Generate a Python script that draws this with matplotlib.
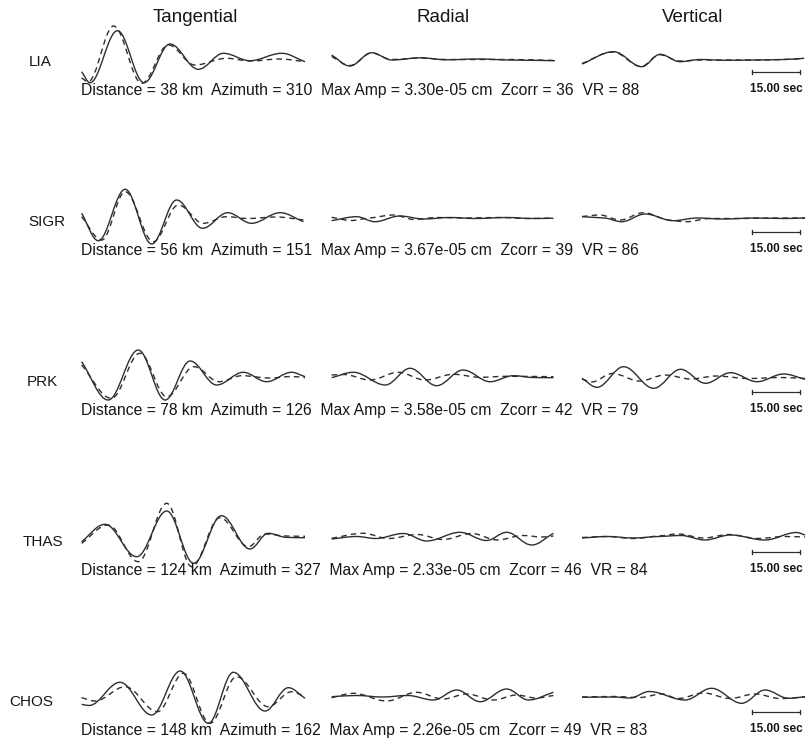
import matplotlib
matplotlib.use('Agg')
import matplotlib.pyplot as plt
from matplotlib.path import Path
from matplotlib.patches import PathPatch

plt.rcParams['font.family'] = ['Liberation Sans', 'DejaVu Sans']

# station info
stations = ['LIA', 'SIGR', 'PRK', 'THAS', 'CHOS']
distance_km = [38, 56, 78, 124, 148]
azimuth = [310, 151, 126, 327, 162]
max_amp_cm = [3.30e-05, 3.67e-05, 3.58e-05, 2.33e-05, 2.26e-05]
zcorr = [36, 39, 42, 46, 49]
vr = [88, 86, 79, 84, 83]
components = ['Tangential', 'Radial', 'Vertical']
scale_sec = 15.0

# waveforms: (time s, amplitude) at extrema, obs = solid, syn = dashed
lia_tan_obs = [(0.2, -14.7), (2.8, -25.7), (11.4, 26.3), (19.7, -25.7), (27.8, 13), (36.7, -12.3), (44.5, 3.7), (52.8, -3.7), (62.7, 3.7), (70, -4.7)]
lia_tan_syn = [(0.2, -21), (2.2, -24.7), (10.2, 31), (19, -26.3), (27.3, 12), (35.6, -8), (45.5, -1.3), (53, -4), (62, -2), (70, -4.7)]
lia_rad_obs = [(0.2, 2), (5.9, -9), (12.7, 4.3), (19, -3), (28, -0.8), (36, -2.8), (46, -2), (56, -3), (70, -3.7)]
lia_rad_syn = [(0.2, 0.5), (5.9, -8.5), (12.7, 4), (19, -2.5), (28, -1), (36, -2.5), (46, -2.5), (56, -2.5), (70, -3.5)]
lia_ver_obs = [(0, -7), (9.9, 5.3), (18.7, -9.7), (24.4, 2.7), (30.6, -4.7), (37, -2.5), (45, -3.3), (55, -3), (63, -2.5), (69.4, -1.3)]
lia_ver_syn = [(0, -6.5), (9.7, 5), (18.5, -9.5), (24.2, 2.3), (30.6, -4), (37, -3), (45, -3), (55, -3), (63, -2.5), (69.4, -1.5)]

sigr_tan_obs = [(0.2, 3.7), (5.4, -23.7), (13.8, 27.7), (22.1, -27), (29.9, 17), (38, -11.3), (45.8, 4.3), (53.3, -6.3), (62.2, 4.3), (69.5, -4.7)]
sigr_tan_syn = [(0.2, 0.3), (6.5, -23), (13.8, 25.3), (22.6, -24.7), (30.4, 12), (38.2, -6.3), (45.5, 0.3), (52, -1.5), (61, 0), (69.5, -3)]
sigr_rad_obs = [(0.2, -3.7), (8, 0.3), (13.7, -4.7), (21.5, 1), (29, -2), (37, -0.5), (45, -1.5), (55, -0.5), (63, -1.5), (69.5, -1.3)]
sigr_rad_syn = [(0.2, -0.3), (6.5, -3.5), (12, -1), (19.5, 2), (26, -2.5), (33, -0.5), (42, -1), (52, -0.5), (62, -1.5), (69.5, -1)]
sigr_ver_obs = [(0, 0.3), (7, -1), (12.4, -4.7), (19.7, 3), (28.5, -3.7), (36, -1), (44, -2), (54, -1), (63, -1.5), (69.7, -1)]
sigr_ver_syn = [(0, 0.5), (5.6, 2), (11.9, -3), (19.2, 4.3), (27, -3), (32.7, -4.7), (40, -1.5), (50, -1.5), (60, -1), (69.7, -1)]

prk_tan_obs = [(0.2, 15.3), (8.5, -23), (17.9, 27), (26.3, -23), (34.1, 16), (42.4, -8), (50.7, 4.7), (58, -4.7), (65.8, 4.7), (70, 0.3)]
prk_tan_syn = [(0.2, 12), (9.5, -21.3), (18.4, 23.7), (26.8, -19.7), (35.3, 10.3), (43.1, -4.7), (50.3, 1.3), (59, -1), (66, 0.5), (70, -0.7)]
prk_rad_obs = [(0.2, -0.7), (7, 4.7), (17, -8), (24.7, 8.7), (33, -8.7), (41.3, 7), (49.7, -4.7), (57, 1.3), (63, -0.5), (69.5, -0.7)]
prk_rad_syn = [(0.2, 2), (4, 2.5), (12.2, -3), (21, 4.7), (29.4, -3), (38.2, 2.7), (46.6, -0.3), (55, 0.7), (69.5, 0.3)]
prk_ver_obs = [(0, -1.3), (4.7, -10.3), (13, 10.3), (22.4, -11.3), (30.8, 7.7), (38.6, -6.3), (46.4, 4.3), (54.7, -4.7), (63, 3), (69.7, -2.3)]
prk_ver_syn = [(0, -2), (3, -5), (9.5, 3.5), (18, -4), (26, 2), (34, -2), (42, 1), (52, -1.5), (62, -0.5), (69.7, -1.5)]

thas_tan_obs = [(0.2, -4.7), (7.5, 12.7), (17.4, -19.7), (26.8, 26), (35.2, -26.3), (43.9, 21.3), (52.8, -12), (58.5, 3.7), (64, -0.3), (70, -0.7)]
thas_tan_syn = [(0.2, -6.3), (8.5, 12), (17.9, -24.7), (26.8, 33.7), (34.6, -29.7), (43.4, 19.3), (52.3, -9.7), (57.5, 3), (64, 1), (70, 0.7)]
thas_rad_obs = [(0.2, -2), (8, 0.5), (14, -1.5), (22.6, 3.5), (29.9, -4), (40.3, 4.7), (48.6, -3.5), (54.9, 4.7), (62.7, -8), (69.5, 3.7)]
thas_rad_syn = [(0.2, -1.3), (10, 3.7), (18, -1.5), (27, 2.5), (35, -2.5), (44, 3.5), (52, -3), (60, 1.5), (66, 0), (69.5, 1)]
thas_ver_obs = [(0, -1), (8, 0.5), (16, -1), (24, 0.5), (31, 1.5), (38.4, -3), (46.3, 2), (57.2, -3), (67, 4.5), (69.7, 2)]
thas_ver_syn = [(0, -0.5), (8, 0.5), (16, -1.5), (24, 1), (30, 3), (38, -1), (46, 2.5), (55, -1.5), (63, 0.5), (69.7, 0)]

chos_tan_obs = [(0.2, -7.3), (2.5, -8.5), (12.2, 14.7), (22.1, -18), (31, 26), (39.8, -26.3), (47.6, 24.7), (57.5, -14), (64.8, 9.3), (70, -1.3)]
chos_tan_syn = [(0.2, -0.7), (4.4, -4), (13.8, 10.3), (23.9, -14.7), (32, 23.7), (40.3, -26.3), (48.6, 20.3), (58.5, -9.7), (65.8, 5.3), (70, 0.3)]
chos_rad_obs = [(0.2, 0.3), (8, 1.5), (16, 0), (24, 1.5), (32, -3), (39.3, 7), (46.6, -4.7), (54.9, 8), (61.7, -3), (69.5, 4.7)]
chos_rad_syn = [(0.2, -0.7), (7, 3.7), (17.4, -4), (26.7, 4.7), (35, -2), (42.5, 3), (50.7, -3), (58, 2), (64, -1), (69.5, 1.5)]
chos_ver_obs = [(0, -0.3), (10, 0), (15, -1), (21, 5.5), (32.2, -3), (40.5, 8.7), (49.9, -6.3), (57.2, 7), (64.5, -1.3), (69.7, 0.3)]
chos_ver_syn = [(0, 0), (10, 0.5), (18, -0.5), (25, 3), (30, -1.5), (38, 4), (46.3, -1.5), (54, 3), (62, -1.5), (69.7, 0)]

waves = [
    [(lia_tan_obs, lia_tan_syn), (lia_rad_obs, lia_rad_syn), (lia_ver_obs, lia_ver_syn)],
    [(sigr_tan_obs, sigr_tan_syn), (sigr_rad_obs, sigr_rad_syn), (sigr_ver_obs, sigr_ver_syn)],
    [(prk_tan_obs, prk_tan_syn), (prk_rad_obs, prk_rad_syn), (prk_ver_obs, prk_ver_syn)],
    [(thas_tan_obs, thas_tan_syn), (thas_rad_obs, thas_rad_syn), (thas_ver_obs, thas_ver_syn)],
    [(chos_tan_obs, chos_tan_syn), (chos_rad_obs, chos_rad_syn), (chos_ver_obs, chos_ver_syn)],
]


def wave_path(pts):
    # smooth curve through the picked extrema (cubic pieces, flat at peaks)
    n = len(pts)
    slopes = []
    for i in range(n):
        if i == 0:
            m = (pts[1][1] - pts[0][1]) / (pts[1][0] - pts[0][0])
        elif i == n - 1:
            m = (pts[i][1] - pts[i - 1][1]) / (pts[i][0] - pts[i - 1][0])
        else:
            a0, a1, a2 = pts[i - 1][1], pts[i][1], pts[i + 1][1]
            if (a1 - a0) * (a2 - a1) <= 0:
                m = 0.0
            else:
                m = 0.5 * (a2 - a0) / (pts[i + 1][0] - pts[i - 1][0])
        slopes.append(m)
    verts = [pts[0]]
    codes = [Path.MOVETO]
    for i in range(n - 1):
        (t0, a0), (t1, a1) = pts[i], pts[i + 1]
        d = (t1 - t0) * 0.36
        verts += [(t0 + d, a0 + d * slopes[i]), (t1 - d, a1 - d * slopes[i + 1]), (t1, a1)]
        codes += [Path.CURVE4] * 3
    return Path(verts, codes)


W, H = 808, 739
fig = plt.figure(figsize=(W / 100, H / 100), dpi=100)
fig.patch.set_facecolor('white')

col_left = [81, 331, 582]
col_center = [195, 443, 693]
label_left = [29, 28, 27, 23, 9]
row_step = 160
line_col = '#2e2e2e'
text_col = '#161616'

for c, name in enumerate(components):
    fig.text(col_center[c] / W, 1 - 18 / H, name, fontsize=13.5, ha='center', va='center', color=text_col)

for r, st in enumerate(stations):
    base = 57 + r * row_step
    fig.text(label_left[r] / W, 1 - (62 + r * row_step) / H, st, fontsize=11,
             ha='left', va='center', color=text_col)
    info = (f"Distance = {distance_km[r]} km  Azimuth = {azimuth[r]}  "
            f"Max Amp = {max_amp_cm[r]:.2e} cm  Zcorr = {zcorr[r]}  VR = {vr[r]}")
    fig.text(81 / W, 1 - (90 + r * row_step) / H, info, fontsize=11.3,
             ha='left', va='center', color=text_col)

    for c in range(3):
        ax = fig.add_axes([col_left[c] / W, 1 - (base + 40) / H, 224 / W, 80 / H])
        ax.set_xlim(0, 70)
        ax.set_ylim(-40, 40)
        ax.axis('off')
        obs, syn = waves[r][c]
        ax.add_patch(PathPatch(wave_path(obs), fill=False, ec=line_col, lw=1.0, clip_on=False))
        ax.add_patch(PathPatch(wave_path(syn), fill=False, ec=line_col, lw=1.0,
                               ls=(0, (4, 3)), clip_on=False))
        if c == 2:
            x0 = 53.1
            ax.plot([x0, x0 + scale_sec], [-15, -15], color=line_col, lw=0.9, clip_on=False)
            ax.plot([x0, x0], [-17, -13], color=line_col, lw=0.9, clip_on=False)
            ax.plot([x0 + scale_sec, x0 + scale_sec], [-17, -13], color=line_col, lw=0.9, clip_on=False)
    fig.text(750 / W, 1 - (89 + r * row_step) / H, f"{scale_sec:.2f} sec", fontsize=8.5,
             fontweight='bold', ha='left', va='center', color=text_col)

fig.savefig('out.png', dpi=100, facecolor='white')
